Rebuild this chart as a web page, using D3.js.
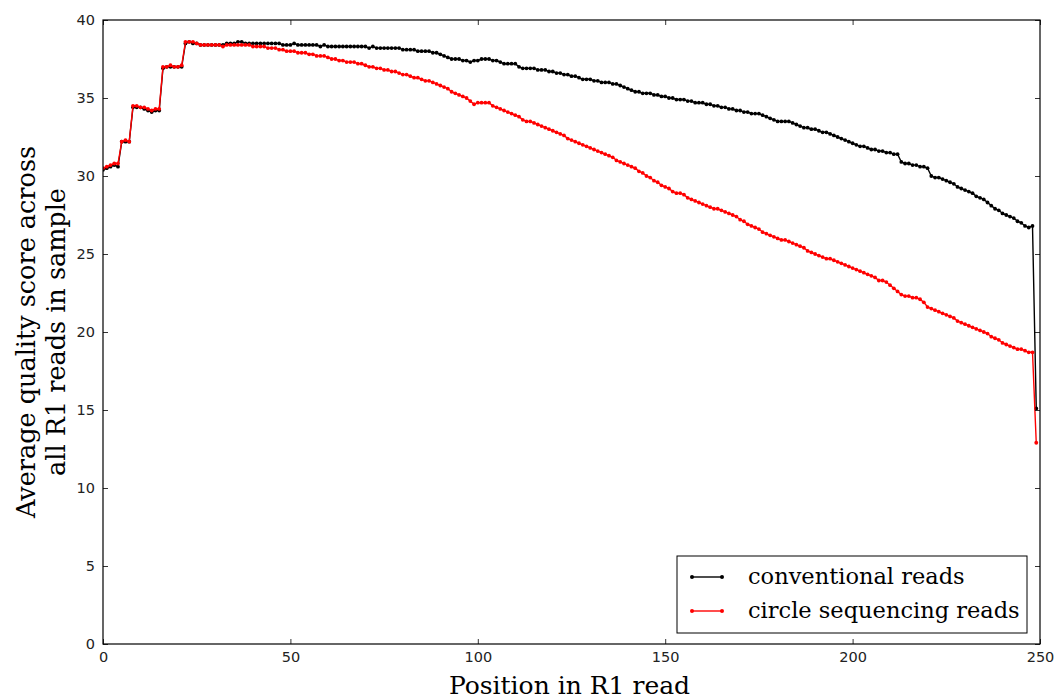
<!DOCTYPE html>
<html>
<head>
<meta charset="utf-8">
<script src="https://cdn.jsdelivr.net/npm/d3@7"></script>
<style>
  body { margin: 0; background: #fff; }
  svg { display: block; }
</style>
</head>
<body>
<div id="chart"></div>
<script>
// average quality score per position
var conventional = [
  30.4, 30.5, 30.6, 30.7, 30.6,
  32.2, 32.2, 32.2,
  34.4, 34.4, 34.4, 34.3, 34.2, 34.1, 34.2, 34.2,
  36.9, 37.0, 37.0, 37.0, 37.0, 37.0,
  38.5, 38.6, 38.5, 38.5, 38.4, 38.4, 38.4, 38.4,
  38.4, 38.4, 38.4, 38.5, 38.5, 38.5, 38.6, 38.6, 38.5, 38.5,
  38.5, 38.5, 38.5, 38.5, 38.5, 38.5, 38.5, 38.5, 38.4, 38.4,
  38.4, 38.5, 38.4, 38.4, 38.4, 38.4, 38.4, 38.4, 38.3, 38.4,
  38.3, 38.3, 38.3, 38.3, 38.3, 38.3, 38.3, 38.3, 38.3, 38.3,
  38.3, 38.2, 38.3, 38.2, 38.2, 38.2, 38.2, 38.2, 38.2, 38.2,
  38.1, 38.1, 38.1, 38.1, 38.0, 38.0, 38.0, 38.0, 37.9, 37.9,
  37.8, 37.7, 37.6, 37.5, 37.5, 37.5, 37.4, 37.4, 37.3, 37.4,
  37.4, 37.5, 37.5, 37.5, 37.4, 37.4, 37.3, 37.2, 37.2, 37.2,
  37.2, 37.0, 36.9, 36.9, 36.9, 36.9, 36.8, 36.8, 36.8, 36.7,
  36.7, 36.6, 36.6, 36.5, 36.5, 36.4, 36.4, 36.3, 36.2, 36.2,
  36.2, 36.1, 36.1, 36.0, 36.0, 36.0, 35.9, 35.9, 35.8, 35.7,
  35.6, 35.5, 35.4, 35.4, 35.3, 35.3, 35.3, 35.2, 35.2, 35.1,
  35.1, 35.0, 35.0, 34.9, 34.9, 34.9, 34.8, 34.8, 34.7, 34.7,
  34.7, 34.6, 34.6, 34.5, 34.5, 34.4, 34.4, 34.3, 34.3, 34.2,
  34.2, 34.1, 34.1, 34.0, 34.0, 34.0, 33.9, 33.8, 33.7, 33.6,
  33.5, 33.5, 33.5, 33.5, 33.4, 33.3, 33.2, 33.1, 33.1, 33.0,
  33.0, 32.9, 32.8, 32.8, 32.7, 32.6, 32.5, 32.4, 32.3, 32.2,
  32.1, 32.0, 31.9, 31.9, 31.8, 31.7, 31.7, 31.6, 31.6, 31.5,
  31.5, 31.4, 31.4, 30.9, 30.8, 30.8, 30.7, 30.7, 30.6, 30.6,
  30.5, 30.0, 29.9, 29.9, 29.8, 29.7, 29.6, 29.5, 29.3, 29.2,
  29.1, 29.0, 28.9, 28.7, 28.6, 28.5, 28.3, 28.1, 27.9, 27.8,
  27.6, 27.5, 27.4, 27.3, 27.1, 27.0, 26.8, 26.7, 26.8, 15.1
];

var circleSeq = [
  30.5, 30.6, 30.7, 30.8, 30.8,
  32.2, 32.3, 32.2,
  34.5, 34.5, 34.4, 34.4, 34.3, 34.2, 34.3, 34.3,
  37.0, 37.0, 37.1, 37.0, 37.0, 37.1,
  38.6, 38.6, 38.6, 38.5, 38.4, 38.4, 38.4, 38.4,
  38.4, 38.4, 38.3, 38.4, 38.4, 38.4, 38.4, 38.4, 38.4, 38.4,
  38.3, 38.3, 38.3, 38.3, 38.2, 38.2, 38.2, 38.1, 38.1, 38.0,
  38.0, 38.0, 37.9, 37.9, 37.9, 37.8, 37.8, 37.7, 37.7, 37.7,
  37.6, 37.5, 37.5, 37.4, 37.4, 37.3, 37.3, 37.3, 37.2, 37.2,
  37.1, 37.0, 37.0, 36.9, 36.9, 36.8, 36.8, 36.7, 36.7, 36.6,
  36.5, 36.5, 36.4, 36.3, 36.3, 36.2, 36.1, 36.1, 36.0, 35.9,
  35.8, 35.7, 35.6, 35.4, 35.3, 35.2, 35.1, 35.0, 34.8, 34.6,
  34.7, 34.7, 34.7, 34.7, 34.5, 34.4, 34.3, 34.2, 34.1, 34.0,
  33.9, 33.8, 33.6, 33.5, 33.5, 33.4, 33.3, 33.2, 33.1, 33.0,
  32.9, 32.8, 32.7, 32.6, 32.4, 32.3, 32.2, 32.1, 32.0, 31.9,
  31.8, 31.7, 31.6, 31.5, 31.4, 31.3, 31.2, 31.0, 30.9, 30.8,
  30.7, 30.6, 30.5, 30.3, 30.2, 30.0, 29.9, 29.7, 29.6, 29.4,
  29.3, 29.2, 29.0, 28.9, 28.9, 28.8, 28.6, 28.5, 28.4, 28.3,
  28.2, 28.1, 28.0, 27.9, 27.9, 27.8, 27.7, 27.6, 27.5, 27.4,
  27.2, 27.1, 26.9, 26.8, 26.7, 26.6, 26.4, 26.3, 26.2, 26.1,
  26.0, 25.9, 25.9, 25.8, 25.7, 25.6, 25.5, 25.4, 25.2, 25.1,
  25.0, 24.9, 24.8, 24.7, 24.7, 24.6, 24.5, 24.4, 24.3, 24.2,
  24.1, 24.0, 23.9, 23.8, 23.7, 23.6, 23.5, 23.3, 23.3, 23.2,
  23.0, 22.8, 22.6, 22.4, 22.3, 22.3, 22.2, 22.2, 22.1, 21.9,
  21.6, 21.5, 21.4, 21.3, 21.2, 21.1, 21.0, 20.9, 20.7, 20.6,
  20.5, 20.4, 20.3, 20.2, 20.1, 20.0, 19.9, 19.7, 19.6, 19.5,
  19.3, 19.2, 19.1, 19.0, 18.9, 18.9, 18.8, 18.7, 18.7, 12.9
];

var seriesNames = ["conventional reads", "circle sequencing reads"];
var seriesColors = ["#000000", "#ff0000"];
var xTicks = [0, 50, 100, 150, 200, 250];
var yTicks = [0, 5, 10, 15, 20, 25, 30, 35, 40];

var W = 1057, H = 699;
var margin = { top: 20, right: 17, bottom: 55, left: 103 },
    width = W - margin.left - margin.right,
    height = H - margin.top - margin.bottom;

var svg = d3.select("#chart").append("svg")
    .attr("width", W)
    .attr("height", H)
    .append("g")
    .attr("transform", "translate(" + margin.left + "," + margin.top + ")");

var x = d3.scaleLinear().domain([0, 250]).range([0, width]);
var y = d3.scaleLinear().domain([0, 40]).range([height, 0]);

var tickFont = "DejaVu Sans, sans-serif";
var labelFont = "DejaVu Serif, serif";

// clip so lines stay inside the frame
svg.append("clipPath").attr("id", "clip")
  .append("rect").attr("width", width).attr("height", height);

var line = d3.line()
    .x(function (d, i) { return x(i); })
    .y(function (d) { return y(d); });

var plot = svg.append("g").attr("clip-path", "url(#clip)");
[conventional, circleSeq].forEach(function (data, k) {
  plot.append("path")
    .datum(data)
    .attr("fill", "none")
    .attr("stroke", seriesColors[k])
    .attr("stroke-width", 1.4)
    .attr("d", line);
  plot.selectAll(".dot" + k)
    .data(data)
    .enter().append("circle")
    .attr("cx", function (d, i) { return x(i); })
    .attr("cy", function (d) { return y(d); })
    .attr("r", 1.9)
    .attr("fill", seriesColors[k]);
});

// axes, ticks pointing inward on all four sides
function styleAxis(g) {
  g.select(".domain").remove();
  g.selectAll(".tick line").attr("stroke", "#000").attr("stroke-width", 0.8);
  g.selectAll(".tick text").attr("font-family", tickFont).attr("font-size", 14.5).attr("fill", "#222");
}

svg.append("g")
  .attr("transform", "translate(0," + height + ")")
  .call(d3.axisBottom(x).tickValues(xTicks).tickSize(-5).tickPadding(8))
  .call(styleAxis);
svg.append("g")
  .call(d3.axisTop(x).tickValues(xTicks).tickSize(-5).tickFormat(""))
  .call(styleAxis);
svg.append("g")
  .call(d3.axisLeft(y).tickValues(yTicks).tickSize(-5).tickPadding(8))
  .call(styleAxis);
svg.append("g")
  .attr("transform", "translate(" + width + ",0)")
  .call(d3.axisRight(y).tickValues(yTicks).tickSize(-5).tickFormat(""))
  .call(styleAxis);

svg.append("rect")
  .attr("width", width).attr("height", height)
  .attr("fill", "none").attr("stroke", "#000").attr("stroke-width", 1.2);

// axis labels
svg.append("text")
  .attr("x", width / 2 - 2).attr("y", height + 50)
  .attr("text-anchor", "middle")
  .attr("font-family", labelFont).attr("font-size", 25)
  .attr("fill", "#000")
  .text("Position in R1 read");

var yl = svg.append("text")
  .attr("transform", "translate(-68," + (height / 2) + ") rotate(-90)")
  .attr("text-anchor", "middle")
  .attr("font-family", labelFont).attr("font-size", 25.5)
  .attr("fill", "#000");
yl.append("tspan").attr("x", 0).attr("dy", 0).text("Average quality score across");
yl.append("tspan").attr("x", 0).attr("dy", 30).text("all R1 reads in sample");

// legend
var lg = svg.append("g").attr("transform", "translate(" + (677 - margin.left) + "," + (556 - margin.top) + ")");
lg.append("rect")
  .attr("width", 350).attr("height", 77)
  .attr("fill", "#fff").attr("stroke", "#000").attr("stroke-width", 1);
seriesNames.forEach(function (name, k) {
  var cy = 21 + k * 34;
  lg.append("line")
    .attr("x1", 15).attr("x2", 45).attr("y1", cy).attr("y2", cy)
    .attr("stroke", seriesColors[k]).attr("stroke-width", 1.4);
  [15, 45].forEach(function (cx) {
    lg.append("circle").attr("cx", cx).attr("cy", cy).attr("r", 2).attr("fill", seriesColors[k]);
  });
  lg.append("text")
    .attr("x", 71).attr("y", cy + 7)
    .attr("font-family", labelFont).attr("font-size", 22.5)
    .attr("fill", "#000")
    .text(name);
});
</script>
</body>
</html>
